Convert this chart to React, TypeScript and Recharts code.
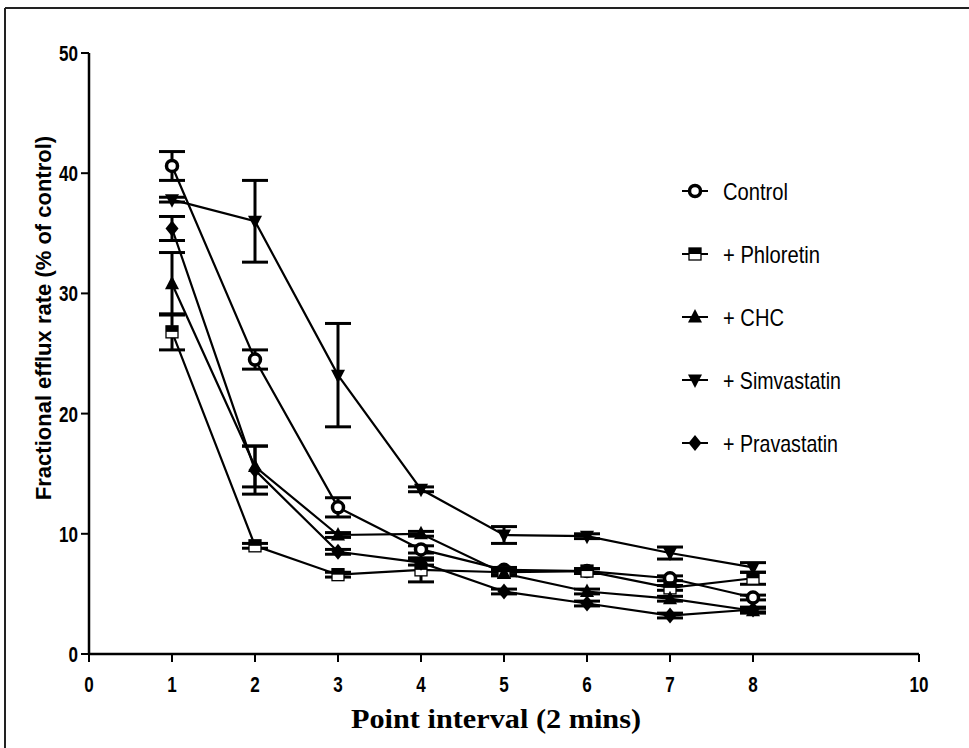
import React from 'react';
import { LineChart, Line, XAxis, YAxis, ErrorBar } from 'recharts';

// point interval (x) and fractional efflux rate for each treatment
const intervals = [1, 2, 3, 4, 5, 6, 7, 8];
const control = [40.6, 24.5, 12.2, 8.7, 7.0, 6.9, 6.3, 4.7];
const controlErr = [1.2, 0.8, 0.8, 0.3, 0.2, 0.2, 0.2, 0.2];
const phloretin = [26.8, 9.0, 6.6, 7.0, 6.8, 6.9, 5.5, 6.3];
const phloretinErr = [1.5, 0.2, 0.2, 1.0, 0.2, 0.2, 0.2, 0.5];
const chc = [30.8, 15.6, 9.9, 10.0, 6.7, 5.2, 4.6, 3.6];
const chcErr = [2.6, 1.7, 0.2, 0.2, 0.2, 0.2, 0.2, 0.2];
const simvastatin = [37.8, 36.0, 23.2, 13.7, 9.9, 9.8, 8.4, 7.2];
const simvastatinErr = [0.2, 3.4, 4.3, 0.2, 0.7, 0.2, 0.5, 0.4];
const pravastatin = [35.4, 15.3, 8.5, 7.6, 5.2, 4.2, 3.2, 3.7];
const pravastatinErr = [1.0, 2.0, 0.2, 0.2, 0.2, 0.2, 0.2, 0.2];

const xTicks = [0, 1, 2, 3, 4, 5, 6, 7, 8, 10];
const yTicks = [0, 10, 20, 30, 40, 50];

const legendLabels = ['Control', '+ Phloretin', '+ CHC', '+ Simvastatin', '+ Pravastatin'];
const legendWidths = [65, 97, 61, 118, 115];

const data = intervals.map((x, i) => ({
  x,
  control: control[i],
  controlErr: controlErr[i],
  phloretin: phloretin[i],
  phloretinErr: phloretinErr[i],
  chc: chc[i],
  chcErr: chcErr[i],
  simvastatin: simvastatin[i],
  simvastatinErr: simvastatinErr[i],
  pravastatin: pravastatin[i],
  pravastatinErr: pravastatinErr[i],
}));

type Pt = { cx: number; cy: number };

const OpenCircle = ({ cx, cy }: Pt) => (
  <circle cx={cx} cy={cy} r={5.5} fill="#fff" stroke="#000" strokeWidth={3.5} />
);
const HalfSquare = ({ cx, cy }: Pt) => (
  <g>
    <rect x={cx - 6} y={cy - 6} width={12} height={12} fill="#fff" stroke="#000" strokeWidth={1.3} />
    <rect x={cx - 6} y={cy - 6} width={12} height={6} fill="#000" />
  </g>
);
const TriUp = ({ cx, cy }: Pt) => (
  <polygon points={`${cx},${cy - 8} ${cx + 7},${cy + 5.5} ${cx - 7},${cy + 5.5}`} fill="#000" />
);
const TriDown = ({ cx, cy }: Pt) => (
  <polygon points={`${cx},${cy + 8} ${cx + 7},${cy - 5.5} ${cx - 7},${cy - 5.5}`} fill="#000" />
);
const Diamond = ({ cx, cy }: Pt) => (
  <polygon points={`${cx},${cy - 8} ${cx + 6.5},${cy} ${cx},${cy + 8} ${cx - 6.5},${cy}`} fill="#000" />
);

const markers = [OpenCircle, HalfSquare, TriUp, TriDown, Diamond];

const dotFor = (Mark: (p: Pt) => React.ReactElement) => (props: any) => (
  <Mark key={`m-${props.index}`} cx={props.cx} cy={props.cy} />
);

const tickFont = { fontFamily: 'Liberation Sans, Arial, sans-serif', fontWeight: 700, fontSize: 22 };

const XTick = (props: any) => {
  const s = String(props.payload.value);
  return (
    <text x={props.x} y={props.y + 28} textAnchor="middle" {...tickFont} fill="#000"
      textLength={s.length * 9.5} lengthAdjust="spacingAndGlyphs">
      {s}
    </text>
  );
};

const YTick = (props: any) => {
  const s = String(props.payload.value);
  return (
    <text x={props.x - 1} y={props.y + 8} textAnchor="end" {...tickFont} fill="#000"
      textLength={s.length * 9.5} lengthAdjust="spacingAndGlyphs">
      {s}
    </text>
  );
};

const series = [
  { key: 'control', err: 'controlErr' },
  { key: 'phloretin', err: 'phloretinErr' },
  { key: 'chc', err: 'chcErr' },
  { key: 'simvastatin', err: 'simvastatinErr' },
  { key: 'pravastatin', err: 'pravastatinErr' },
];

export default function App() {
  return (
    <div style={{ position: 'absolute', left: 0, top: 0, width: 969, height: 748, overflow: 'hidden', background: '#fff' }}>
      <LineChart
        width={969}
        height={748}
        data={data}
        margin={{ top: 53, right: 50, bottom: 64, left: 29 }}
      >
        <XAxis
          dataKey="x"
          type="number"
          domain={[0, 10]}
          ticks={xTicks}
          height={30}
          axisLine={{ stroke: '#000', strokeWidth: 2.5 }}
          tickLine={{ stroke: '#000', strokeWidth: 2 }}
          tickSize={8}
          tick={<XTick />}
        />
        <YAxis
          type="number"
          domain={[0, 50]}
          ticks={yTicks}
          width={60}
          axisLine={{ stroke: '#000', strokeWidth: 2.5 }}
          tickLine={{ stroke: '#000', strokeWidth: 2 }}
          tickSize={8}
          tick={<YTick />}
        />
        {series.map((s, i) => (
          <Line
            key={s.key}
            type="linear"
            dataKey={s.key}
            stroke="#000"
            strokeWidth={2.2}
            dot={dotFor(markers[i])}
            activeDot={false}
            isAnimationActive={false}
          >
            <ErrorBar dataKey={s.err} width={13} strokeWidth={3} stroke="#000" direction="y" />
          </Line>
        ))}
      </LineChart>
      <svg width={969} height={748} style={{ position: 'absolute', left: 0, top: 0, pointerEvents: 'none' }}>
        <line x1={5} y1={8} x2={969} y2={8} stroke="#222" strokeWidth={2} />
        <line x1={5} y1={8} x2={5} y2={748} stroke="#222" strokeWidth={2} />
        {legendLabels.map((label, i) => {
          const Mark = markers[i];
          const cy = 191 + i * 63;
          return (
            <g key={label}>
              <line x1={682} x2={708} y1={cy} y2={cy} stroke="#000" strokeWidth={2} />
              <Mark cx={695} cy={cy} />
              <text x={723} y={cy + 9} fontFamily="Liberation Sans, Arial, sans-serif" fontSize={24}
                fill="#000" textLength={legendWidths[i]} lengthAdjust="spacingAndGlyphs">
                {label}
              </text>
            </g>
          );
        })}
        <text x={0} y={0} transform="translate(51,318) rotate(-90)" textAnchor="middle"
          fontFamily="Liberation Sans, Arial, sans-serif" fontWeight={700} fontSize={22} fill="#000">
          Fractional efflux rate (% of control)
        </text>
        <text x={496} y={728} textAnchor="middle" fontFamily="Liberation Serif, Times New Roman, serif"
          fontWeight={700} fontSize={27} fill="#000" textLength={290} lengthAdjust="spacingAndGlyphs">
          Point interval (2 mins)
        </text>
      </svg>
    </div>
  );
}
